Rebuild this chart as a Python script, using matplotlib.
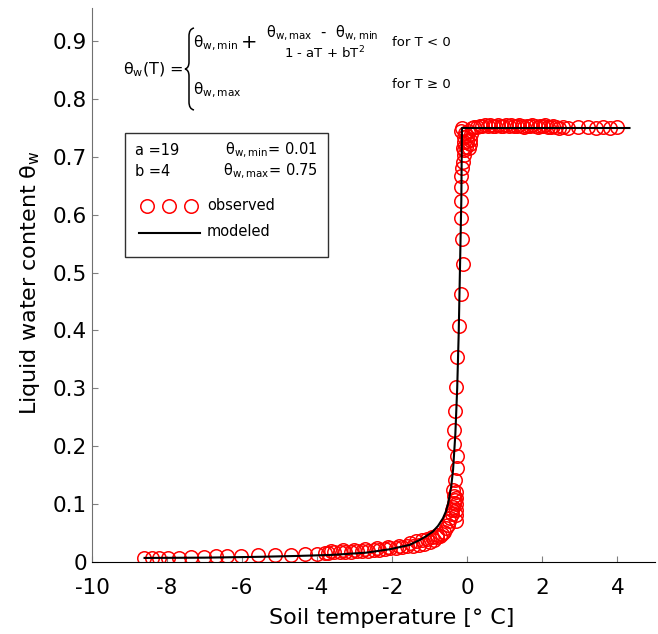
import matplotlib
matplotlib.use("Agg")
import matplotlib.pyplot as plt
from matplotlib.patches import Rectangle, PathPatch
from matplotlib.path import Path
from matplotlib.lines import Line2D

plt.rcParams['font.family'] = ['DejaVu Sans']
plt.rcParams['axes.unicode_minus'] = False

# ---- observed liquid water content vs. soil temperature ----
obs_T = [
    -8.61, -8.39, -8.21, -7.97, -7.68, -7.35, -7.02, -6.70, -6.40, -6.04,
    -5.59, -5.12, -4.71, -4.33, -4.00, -3.80,
    -3.70, -3.55, -3.40, -3.25, -3.10, -2.95, -2.80, -2.65, -2.50, -2.35,
    -2.20, -2.05, -1.90, -1.75, -1.60, -1.45, -1.30, -1.15, -1.00, -0.88,
    -3.62, -3.32, -3.02, -2.72, -2.42, -2.12, -1.82, -1.52, -1.38, -1.22,
    -1.08, -0.95, -0.82,
    -0.80, -0.74, -0.68, -0.62, -0.56, -0.52, -0.48, -0.45, -0.42, -0.40,
    -0.38, -0.36, -0.34, -0.36, -0.38, -0.34, -0.27, -0.27, -0.36, -0.36,
    -0.34, -0.31, -0.27, -0.22, -0.16, -0.12, -0.13, -0.16, -0.18, -0.16,
    -0.16, -0.14, -0.12, -0.10, -0.10,
    -0.30, -0.30, -0.29, -0.30, -0.31, -0.30,
    -0.18, -0.14, -0.10, -0.08, -0.06, -0.04, -0.02, 0.00, 0.02, 0.04,
    0.06, 0.08, 0.09, -0.12,
    0.12, 0.19, 0.26, 0.33, 0.40, 0.47, 0.54, 0.61, 0.68, 0.75,
    0.82, 0.89, 0.96, 1.03, 1.10, 1.17, 1.24, 1.31, 1.38, 1.45,
    1.52, 1.59, 1.66, 1.73, 1.80, 1.87, 1.94, 2.01, 2.08, 2.15,
    2.22, 2.29, 2.36, 2.43,
    2.55, 2.68, 2.94, 3.21, 3.43, 3.61, 3.79, 3.98,
]
obs_theta = [
    0.006, 0.006, 0.006, 0.007, 0.007, 0.008, 0.008, 0.009, 0.009, 0.010,
    0.011, 0.011, 0.012, 0.013, 0.014, 0.015,
    0.015, 0.016, 0.016, 0.017, 0.017, 0.018, 0.018, 0.019, 0.020, 0.021,
    0.022, 0.023, 0.024, 0.026, 0.027, 0.027, 0.029, 0.031, 0.034, 0.037,
    0.019, 0.020, 0.021, 0.022, 0.023, 0.025, 0.028, 0.033, 0.035, 0.037,
    0.040, 0.043, 0.046,
    0.042, 0.045, 0.048, 0.052, 0.058, 0.064, 0.070, 0.076, 0.082, 0.089,
    0.095, 0.101, 0.107, 0.114, 0.124, 0.141, 0.162, 0.182, 0.203, 0.228,
    0.260, 0.302, 0.354, 0.408, 0.463, 0.515, 0.558, 0.594, 0.623, 0.648,
    0.667, 0.681, 0.692, 0.704, 0.712,
    0.070, 0.080, 0.090, 0.100, 0.110, 0.120,
    0.745, 0.750, 0.725, 0.735, 0.742, 0.718, 0.728, 0.736, 0.744, 0.716,
    0.722, 0.730, 0.740, 0.716,
    0.750, 0.751, 0.752, 0.753, 0.754, 0.755, 0.754, 0.755, 0.754, 0.753,
    0.755, 0.754, 0.753, 0.755, 0.754, 0.755, 0.754, 0.753, 0.755, 0.754,
    0.752, 0.754, 0.753, 0.755, 0.754, 0.752, 0.754, 0.753, 0.755, 0.752,
    0.751, 0.753, 0.752, 0.750,
    0.751, 0.750, 0.751, 0.751, 0.750, 0.751, 0.750, 0.751,
]

# ---- modeled freezing curve ----
model_T = [-8.60, -7.00, -5.50, -4.50, -3.60, -2.70, -2.07, -1.54, -1.27,
           -1.10, -0.92, -0.78, -0.65, -0.57, -0.51, -0.43, -0.38, -0.32,
           -0.27, -0.23, -0.16, -0.144, 0.00, 2.00, 4.32]
model_theta = [0.0065, 0.0070, 0.0085, 0.0100, 0.0118, 0.0156, 0.0215,
               0.0290, 0.0375, 0.0440, 0.0520, 0.0620, 0.0750, 0.0870,
               0.1010, 0.1300, 0.1590, 0.2200, 0.3000, 0.3950, 0.6260,
               0.7500, 0.7500, 0.7500, 0.7500]

x_ticks = [-10, -8, -6, -4, -2, 0, 2, 4]
x_ticklabels = ['-10', '-8', '-6', '-4', '-2', '0', '2', '4']
y_ticks = [0, 0.1, 0.2, 0.3, 0.4, 0.5, 0.6, 0.7, 0.8, 0.9]
y_ticklabels = ['0', '0.1', '0.2', '0.3', '0.4', '0.5', '0.6', '0.7', '0.8', '0.9']

W, H = 658, 634
fig = plt.figure(figsize=(W / 100, H / 100), dpi=100)


def fx(px):
    return px / W


def fy(py):
    return 1 - py / H


ax = fig.add_axes([fx(92), fy(561.7), (655 - 92) / W, (561.7 - 8.3) / H])

ax.plot(obs_T, obs_theta, linestyle='none', marker='o', markersize=9.7,
        markerfacecolor='none', markeredgecolor='red', markeredgewidth=1.1)
ax.plot(model_T, model_theta, color='black', linewidth=1.5)

ax.set_xlim(-10, 5)
ax.set_ylim(0, 0.957)
ax.set_xticks(x_ticks)
ax.set_xticklabels(x_ticklabels)
ax.set_yticks(y_ticks)
ax.set_yticklabels(y_ticklabels)

for side in ('top', 'right'):
    ax.spines[side].set_visible(False)
ax.spines['left'].set_color('#707070')
ax.spines['bottom'].set_color('black')
ax.tick_params(axis='both', direction='in', length=4, labelsize=15.5,
               color='#808080')
ax.tick_params(axis='x', pad=12)
ax.tick_params(axis='y', pad=3.5)

fig.text(fx(391.5), fy(618), 'Soil temperature [° C]', ha='center',
         va='center', fontsize=16)
fig.text(fx(30), fy(283), 'Liquid water content θ$_\\mathrm{w}$', ha='center',
         va='center', fontsize=16, rotation=90)

# ---- piecewise equation ----
eq_fs = 9.5
fig.text(fx(153), fy(70), 'θ$_\\mathrm{w}$(T) =', ha='center', va='center',
         fontsize=11.5)
brace = Path(
    [(194, 28), (189, 29), (189, 36), (189, 36),
     (189, 62), (189, 62), (189, 68), (185, 69),
     (189, 70), (189, 76), (189, 76),
     (189, 102), (189, 102), (189, 109), (194, 110)],
    [Path.MOVETO, Path.CURVE3, Path.CURVE3, Path.LINETO,
     Path.LINETO, Path.LINETO, Path.CURVE3, Path.CURVE3,
     Path.CURVE3, Path.CURVE3, Path.LINETO,
     Path.LINETO, Path.LINETO, Path.CURVE3, Path.CURVE3])
brace_fig = Path([(fx(x), fy(y)) for x, y in brace.vertices], brace.codes)
fig.add_artist(PathPatch(brace_fig, transform=fig.transFigure,
                         facecolor='none', edgecolor='black', linewidth=1.1))
fig.text(fx(193), fy(43), 'θ$_\\mathrm{w,min}$', ha='left', va='center',
         fontsize=11)
fig.text(fx(249), fy(43), '+', ha='center', va='center', fontsize=14)
fig.text(fx(322), fy(33), 'θ$_\\mathrm{w,max}$  -  θ$_\\mathrm{w,min}$',
         ha='center', va='center', fontsize=10.5)
fig.text(fx(324), fy(53), '1 - aT + bT$^{2}$', ha='center', va='center',
         fontsize=9.5)
fig.text(fx(392), fy(43), 'for T < 0', ha='left', va='center', fontsize=eq_fs)
fig.text(fx(193), fy(90), 'θ$_\\mathrm{w,max}$', ha='left', va='center',
         fontsize=11)
fig.text(fx(392), fy(85), 'for T ≥ 0', ha='left', va='center', fontsize=eq_fs)

# ---- parameter / legend box ----
fig.add_artist(Rectangle((fx(125), fy(256.7)), (328.3 - 125) / W,
                         (256.7 - 132.7) / H, transform=fig.transFigure,
                         facecolor='white', edgecolor='#303030',
                         linewidth=1.0))
box_fs = 10.5
fig.text(fx(135), fy(150.5), 'a =19', ha='left', va='center', fontsize=box_fs)
fig.text(fx(135), fy(171.5), 'b =4', ha='left', va='center', fontsize=box_fs)
fig.text(fx(318), fy(150), 'θ$_\\mathrm{w,min}$= 0.01', ha='right',
         va='center', fontsize=box_fs)
fig.text(fx(318), fy(171), 'θ$_\\mathrm{w,max}$= 0.75', ha='right',
         va='center', fontsize=box_fs)
fig.add_artist(Line2D([fx(146.7), fx(169.3), fx(191)], [fy(206)] * 3,
                      transform=fig.transFigure, linestyle='none', marker='o',
                      markersize=9.7, markerfacecolor='none',
                      markeredgecolor='red', markeredgewidth=1.1))
fig.text(fx(207), fy(206), 'observed', ha='left', va='center', fontsize=box_fs)
fig.add_artist(Line2D([fx(139), fx(200)], [fy(232.7)] * 2,
                      transform=fig.transFigure, color='black', linewidth=1.5))
fig.text(fx(207), fy(231), 'modeled', ha='left', va='center', fontsize=box_fs)

fig.savefig('out.png', dpi=100)
